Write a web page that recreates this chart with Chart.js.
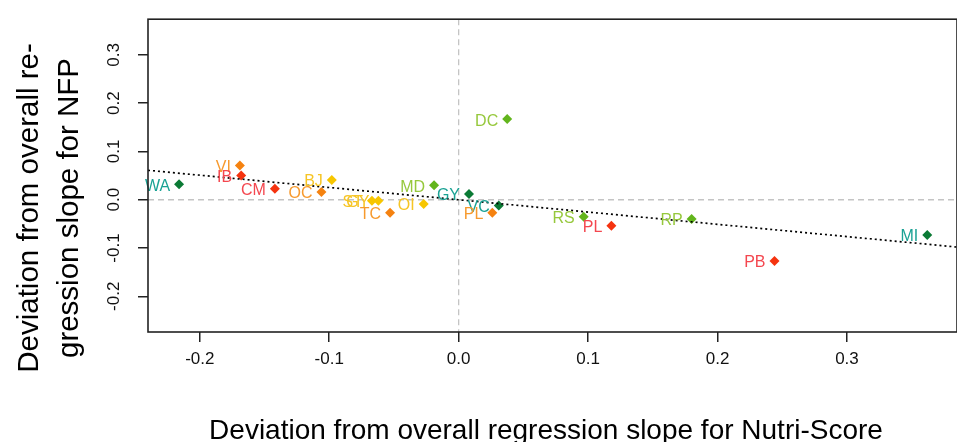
<!DOCTYPE html>
<html>
<head>
<meta charset="utf-8">
<script src="https://cdn.jsdelivr.net/npm/chart.js@4/dist/chart.umd.min.js"></script>
<style>
  html, body { margin: 0; padding: 0; background: #fff; overflow: hidden; }
  #wrap { position: absolute; left: 0; top: 0; width: 962px; height: 442px; }
</style>
</head>
<body>
<div id="wrap"><canvas id="chart"></canvas></div>
<script>
// deviations of each panel from the overall regression slopes
const codes = ["WA", "VI", "IB", "CM", "OC", "BJ", "ST", "GY", "TC", "OI", "MD", "GY", "VC", "PL", "DC", "RS", "PL", "RP", "MI", "PB"];
const nutriDev = [-0.216, -0.169, -0.168, -0.142, -0.106, -0.098, -0.067, -0.062, -0.053, -0.027, -0.019, 0.008, 0.031, 0.026, 0.0375, 0.0966, 0.118, 0.180, 0.362, 0.244];
const nfpDev = [0.032, 0.071, 0.050, 0.023, 0.016, 0.041, -0.002, -0.002, -0.027, -0.009, 0.030, 0.012, -0.012, -0.027, 0.167, -0.035, -0.054, -0.040, -0.073, -0.127];
const groups = ["dkgreen", "orange", "red", "red", "orange", "yellow", "yellow", "yellow", "orange", "yellow", "green", "dkgreen", "dkgreen", "orange", "green", "green", "red", "green", "dkgreen", "red"];

// fitted line through the points (end values at the plot limits)
const fitX = [-0.24, 0.385];
const fitY = [0.061, -0.098];

const xTicks = [-0.2, -0.1, 0.0, 0.1, 0.2, 0.3];
const yTicks = [-0.2, -0.1, 0.0, 0.1, 0.2, 0.3];
const xLimits = [-0.24, 0.385];
const yLimits = [-0.274, 0.374];

const xTitle = "Deviation from overall regression slope for Nutri-Score";
const yTitle = ["Deviation from overall re-", "gression slope for NFP"];

const pointColors = { dkgreen: "#0b7a35", green: "#62b51c", yellow: "#f7c600", orange: "#f58210", red: "#f5330f" };
const labelColors = { dkgreen: "#1aa294", green: "#96c83c", yellow: "#f6c526", orange: "#f79a2e", red: "#f4474f" };

const FONT = "'Liberation Sans', Arial, sans-serif";

const points = codes.map((c, i) => ({ x: nutriDev[i], y: nfpDev[i] }));

// dashed zero lines, point codes, box and axis titles
const decorations = {
  id: "decorations",
  beforeDatasetsDraw(chart) {
    const { ctx, chartArea: a, scales: { x, y } } = chart;
    ctx.save();
    ctx.strokeStyle = "#c4c4c4";
    ctx.lineWidth = 1.3;
    ctx.setLineDash([6, 4]);
    const x0 = x.getPixelForValue(0), y0 = y.getPixelForValue(0);
    ctx.beginPath();
    ctx.moveTo(x0, a.top); ctx.lineTo(x0, a.bottom);
    ctx.moveTo(a.left, y0); ctx.lineTo(a.right, y0);
    ctx.stroke();
    ctx.restore();
  },
  afterDatasetsDraw(chart) {
    const { ctx, scales: { x, y } } = chart;
    ctx.save();
    ctx.font = "16px " + FONT;
    ctx.textAlign = "right";
    ctx.textBaseline = "middle";
    codes.forEach((c, i) => {
      ctx.fillStyle = labelColors[groups[i]];
      ctx.fillText(c, x.getPixelForValue(nutriDev[i]) - 9, y.getPixelForValue(nfpDev[i]) + 2);
    });
    ctx.restore();
  },
  afterDraw(chart) {
    const { ctx, chartArea: a } = chart;
    ctx.save();
    ctx.strokeStyle = "#222";
    ctx.lineWidth = 1.6;
    ctx.strokeRect(a.left, a.top, a.right - a.left, a.bottom - a.top);

    ctx.fillStyle = "#000";
    ctx.font = "28px " + FONT;
    ctx.textAlign = "center";
    ctx.textBaseline = "alphabetic";
    ctx.fillText(xTitle, 546, 439);

    ctx.font = "29.5px " + FONT;
    [38, 78].forEach((bx, k) => {
      ctx.save();
      ctx.translate(bx, 208);
      ctx.rotate(-Math.PI / 2);
      ctx.fillText(yTitle[k], 0, 0);
      ctx.restore();
    });
    ctx.restore();
  }
};

new Chart(document.getElementById("chart"), {
  type: "scatter",
  data: {
    datasets: [
      {
        type: "line",
        data: fitX.map((v, i) => ({ x: v, y: fitY[i] })),
        borderColor: "#000",
        borderWidth: 1.7,
        borderDash: [2, 3],
        pointRadius: 0,
        fill: false
      },
      {
        data: points,
        pointStyle: "rectRot",
        pointRadius: 5,
        pointBorderWidth: 0,
        pointBackgroundColor: groups.map(g => pointColors[g]),
        pointBorderColor: groups.map(g => pointColors[g])
      }
    ]
  },
  options: {
    responsive: true,
    maintainAspectRatio: false,
    animation: false,
    layout: { padding: { left: 0, top: 15, right: 2.5, bottom: 0 } },
    plugins: { legend: { display: false }, tooltip: { enabled: false } },
    scales: {
      x: {
        type: "linear",
        min: xLimits[0],
        max: xLimits[1],
        afterBuildTicks: s => { s.ticks = xTicks.map(v => ({ value: v })); },
        afterFit: s => { s.height = 110; },
        border: { display: false },
        grid: { drawOnChartArea: false, drawTicks: true, tickLength: 10, color: "#222", lineWidth: 1.5 },
        ticks: {
          padding: 7,
          color: "#111",
          font: { family: FONT, size: 17 },
          maxRotation: 0,
          callback: v => v.toFixed(1)
        }
      },
      y: {
        type: "linear",
        min: yLimits[0],
        max: yLimits[1],
        afterBuildTicks: s => { s.ticks = yTicks.map(v => ({ value: v })); },
        afterFit: s => { s.width = 148; },
        border: { display: false },
        grid: { drawOnChartArea: false, drawTicks: true, tickLength: 10, color: "#222", lineWidth: 1.5 },
        ticks: {
          padding: 9,
          crossAlign: "center",
          minRotation: 90,
          maxRotation: 90,
          color: "#111",
          font: { family: FONT, size: 17 },
          callback: v => v.toFixed(1)
        }
      }
    }
  },
  plugins: [decorations]
});
</script>
</body>
</html>
